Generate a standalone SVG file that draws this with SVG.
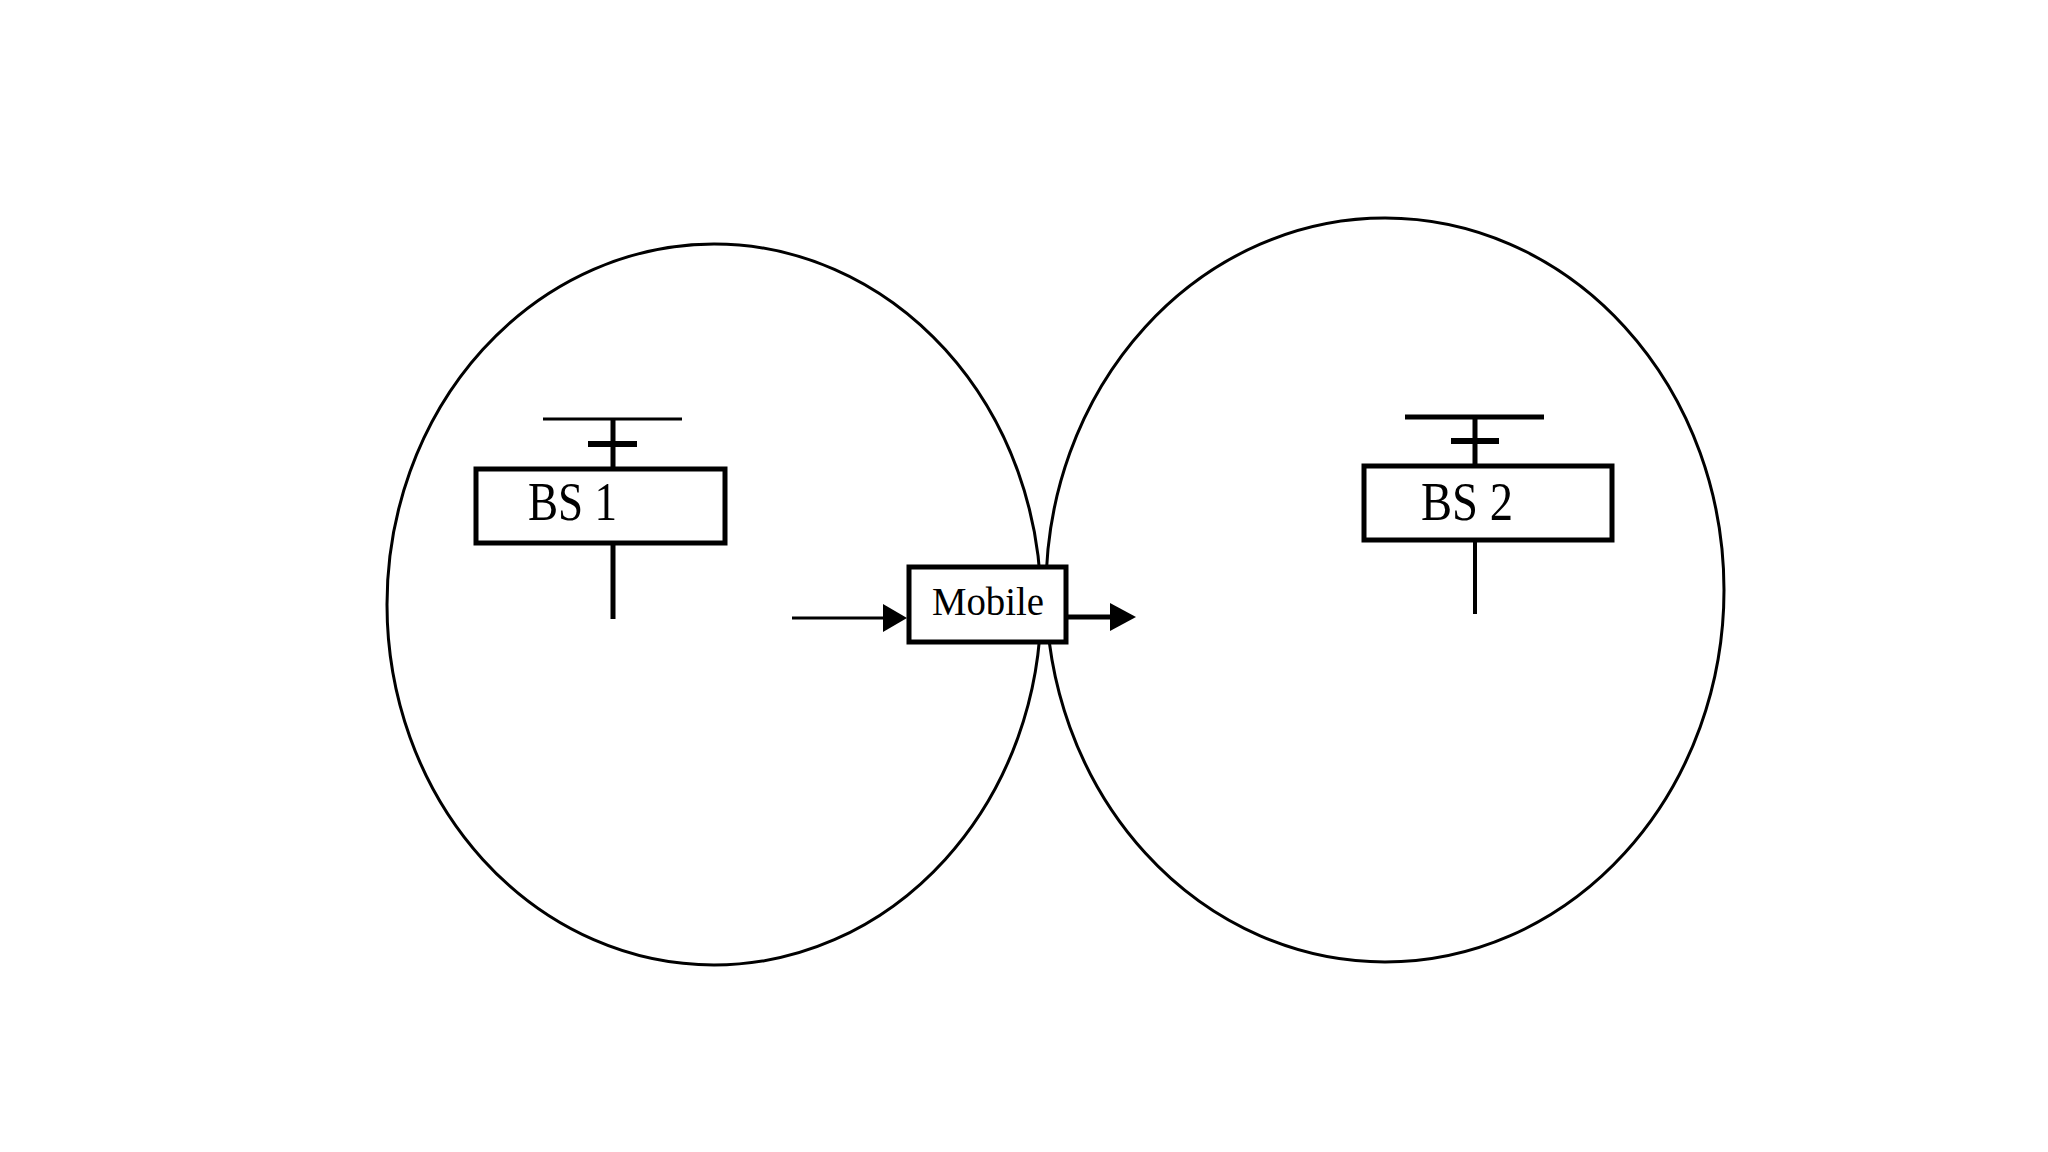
<svg xmlns="http://www.w3.org/2000/svg" width="2048" height="1152" viewBox="0 0 2048 1152">
<style>
.cell{fill:none;stroke:#000;stroke-width:3}
.box{fill:#fff;stroke:#000;stroke-width:5}
.ln{stroke:#000;fill:none}
.lbl{font-family:"Liberation Serif","Times New Roman",serif;fill:#000}
</style>
<rect width="2048" height="1152" fill="#fff"/>
<g id="cell1"><ellipse class="cell" cx="714" cy="604.5" rx="327" ry="360.5"/></g>
<g id="cell2"><ellipse class="cell" cx="1385" cy="590" rx="339" ry="372"/></g>
<g id="bs1">
<line class="ln" x1="543" y1="419" x2="682" y2="419" stroke-width="3"/>
<line class="ln" x1="613" y1="419" x2="613" y2="468" stroke-width="5"/>
<line class="ln" x1="588" y1="444" x2="637" y2="444" stroke-width="6"/>
<rect class="box" x="476" y="469" width="249" height="74"/>
<line class="ln" x1="613" y1="545" x2="613" y2="619" stroke-width="5"/>
<text class="lbl" x="528" y="520" font-size="54" textLength="89" lengthAdjust="spacingAndGlyphs">BS 1</text>
</g>
<g id="bs2">
<line class="ln" x1="1405" y1="417" x2="1544" y2="417" stroke-width="5"/>
<line class="ln" x1="1475" y1="417" x2="1475" y2="464" stroke-width="5"/>
<line class="ln" x1="1451" y1="441" x2="1499" y2="441" stroke-width="6"/>
<rect class="box" x="1364" y="466" width="248" height="74"/>
<line class="ln" x1="1475" y1="542" x2="1475" y2="614" stroke-width="4"/>
<text class="lbl" x="1421" y="520" font-size="54" textLength="92" lengthAdjust="spacingAndGlyphs">BS 2</text>
</g>
<g id="mobile">
<rect class="box" x="909" y="567" width="157" height="75"/>
<text class="lbl" x="932" y="615" font-size="40" textLength="112" lengthAdjust="spacingAndGlyphs">Mobile</text>
</g>
<g id="connectors">
<line class="ln" x1="792" y1="618" x2="885" y2="618" stroke-width="3"/>
<polygon points="883,604 907,618 883,632" fill="#000"/>
<line class="ln" x1="1068" y1="617" x2="1112" y2="617" stroke-width="5"/>
<polygon points="1110,603 1136,617 1110,631" fill="#000"/>
</g>
</svg>
